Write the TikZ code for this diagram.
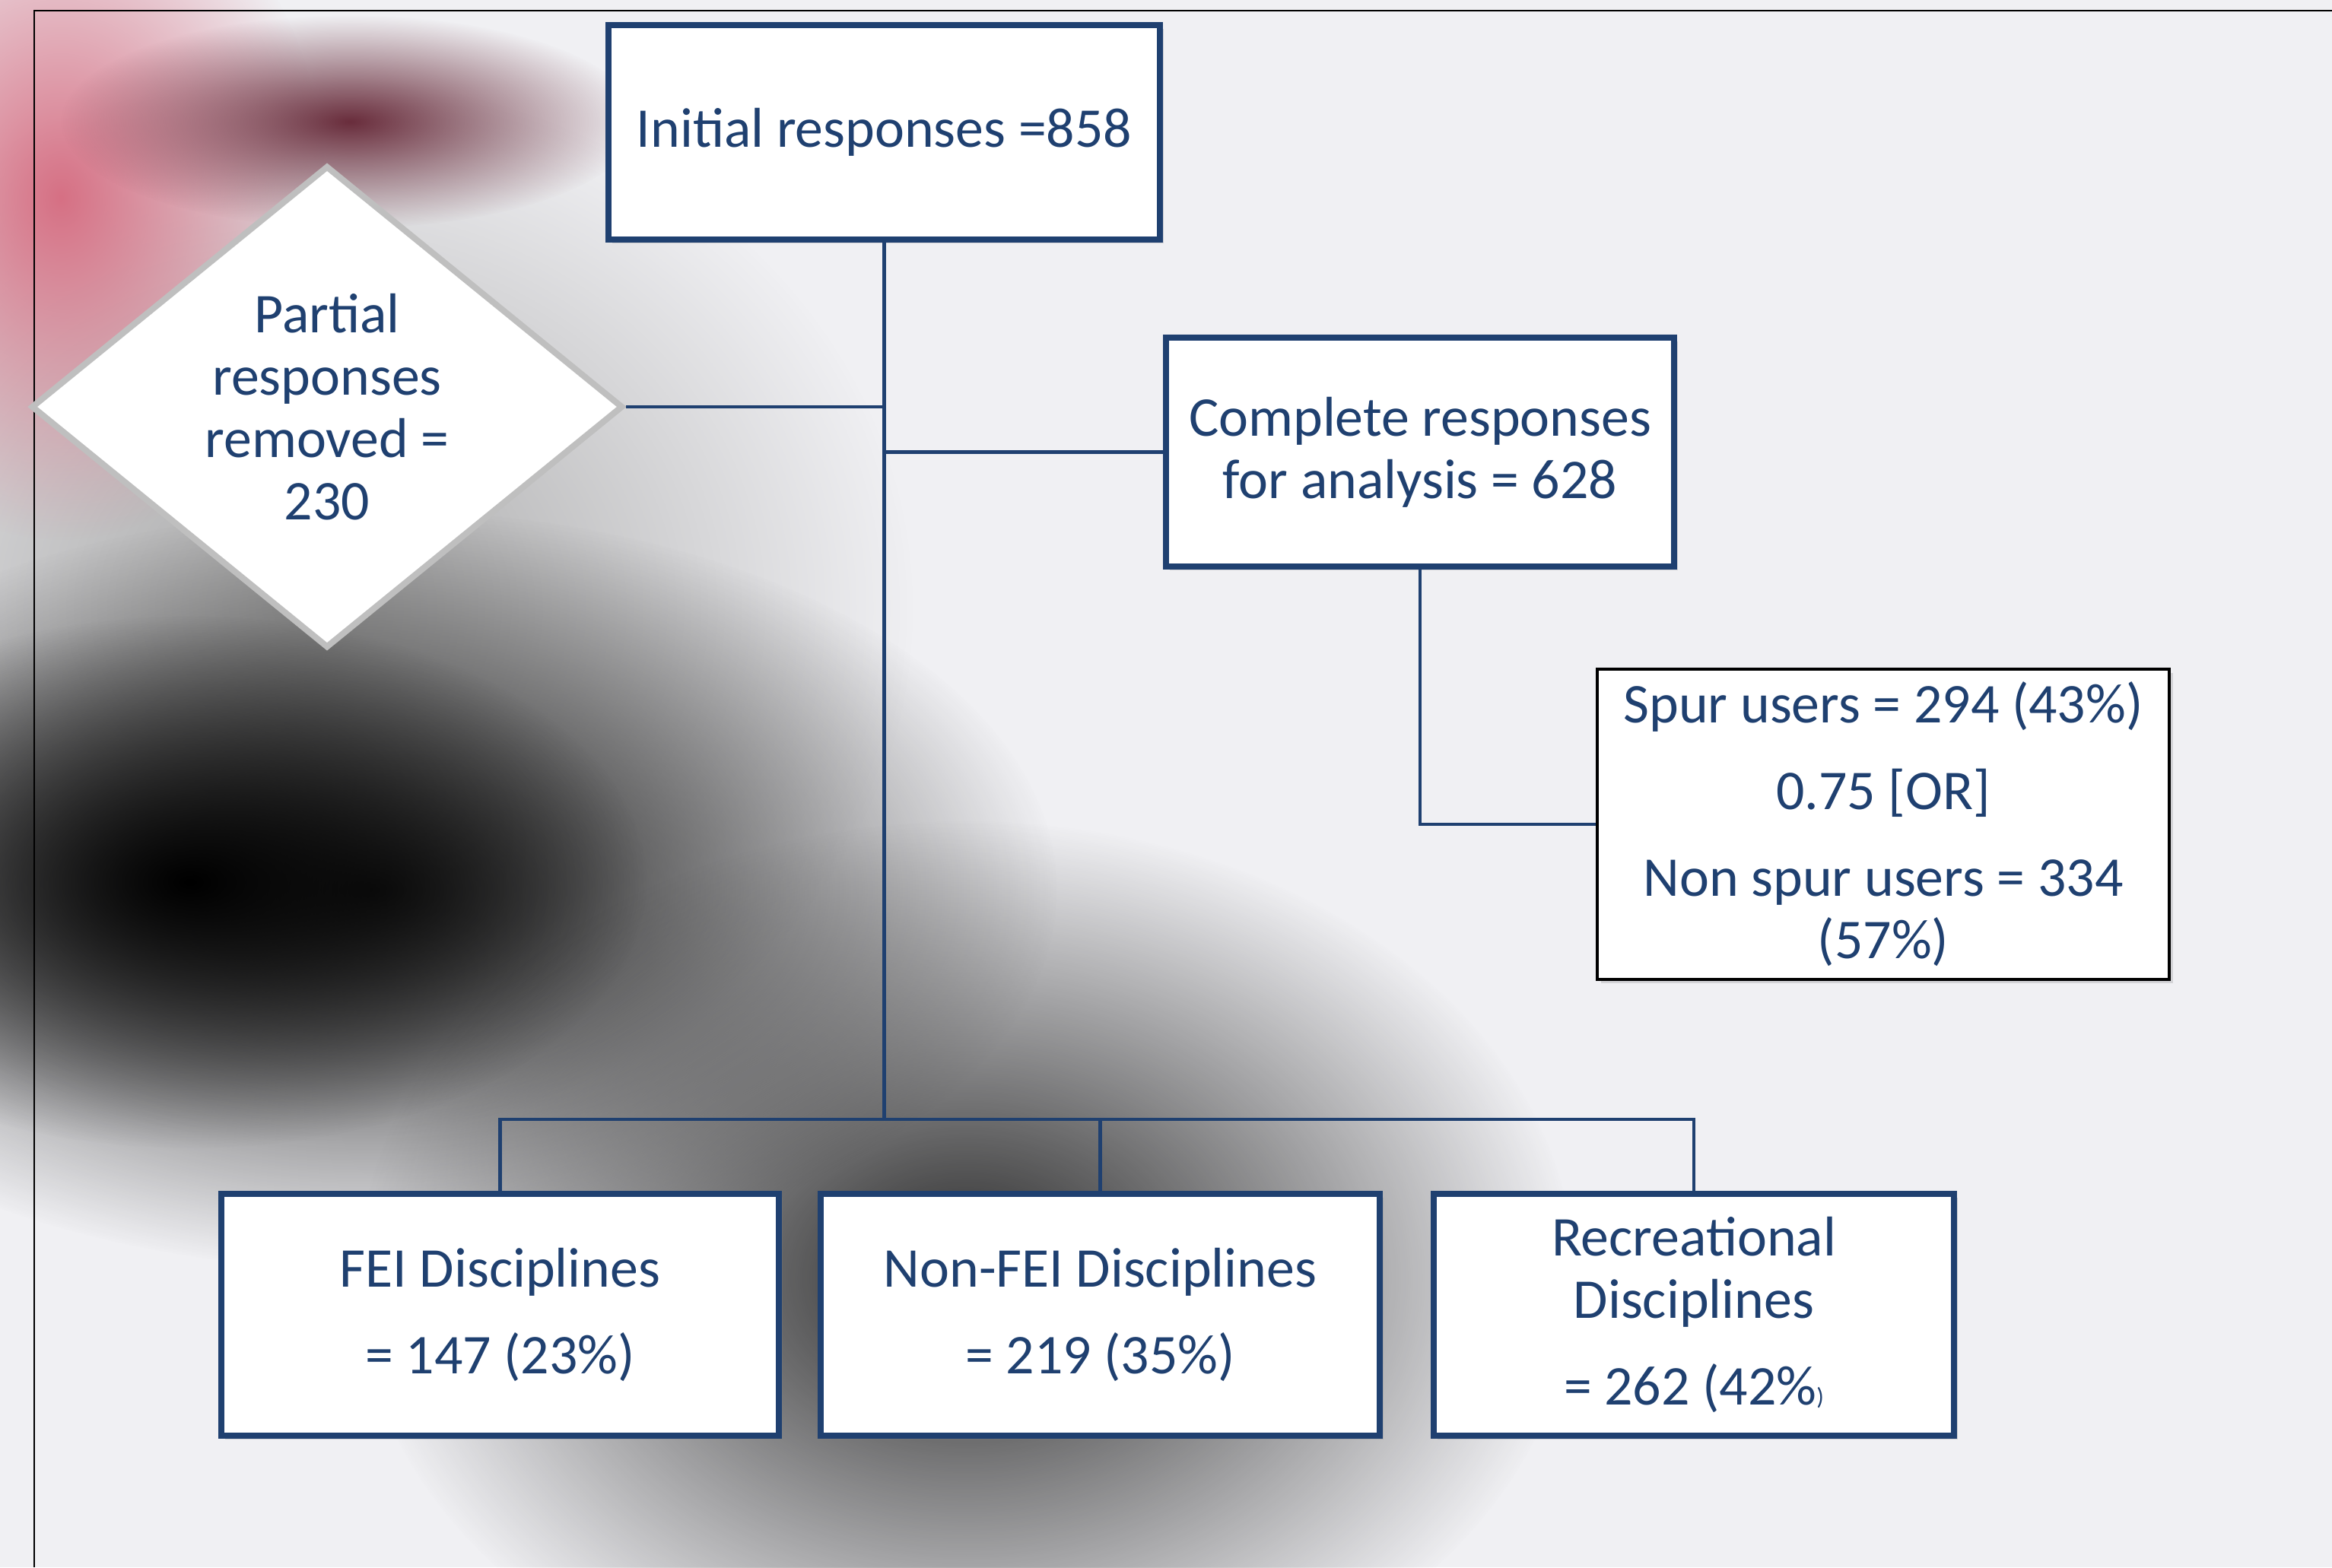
\documentclass[tikz,border=0pt]{standalone}
\usepackage{fontspec}
\setmainfont{Carlito}
\usetikzlibrary{shapes,shadows,fadings,positioning,calc}
\definecolor{boxblue}{RGB}{31,64,112}
\definecolor{diamondgrey}{RGB}{191,191,191}
\definecolor{bggrey}{RGB}{240,240,243}
\definecolor{blobpink}{RGB}{214,112,132}
\definecolor{blobmaroon}{RGB}{105,45,60}
\tikzfading[name=blobfade, inner color=transparent!0, outer color=transparent!100]

\begin{document}
\begin{tikzpicture}[
        font=\fontsize{21}{23.4}\selectfont,
        box/.style={
          draw=boxblue, line width=2.3pt, fill=white,
          text=boxblue, align=center, inner sep=0pt,
          drop shadow={shadow xshift=1.5pt, shadow yshift=-1.5pt, opacity=0.25}
        },
        result/.style={
          draw=black, line width=1.1pt, fill=white,
          text=boxblue, align=center, inner sep=0pt,
          drop shadow={shadow xshift=1.5pt, shadow yshift=-1.5pt, opacity=0.25}
        },
        decision/.style={
          diamond, draw=diamondgrey, line width=2.3pt, fill=white,
          text=boxblue, align=center, inner sep=0pt
        },
        link/.style={draw=boxblue, line width=1.2pt}
      ]

        % Background
        \fill[bggrey] (0,0) rectangle (30.66,-20.61);
        \useasboundingbox (0,0) rectangle (30.66,-20.61);
        \fill[black!35, path fading=blobfade] (4,-8) ellipse (8 and 7);
        \fill[black!90, path fading=blobfade] (4.9,-11.7) ellipse (9 and 5);
        \fill[black, path fading=blobfade] (2.5,-11.6) ellipse (6 and 3.5);
        \fill[black!85, path fading=blobfade] (12.7,-16.8) ellipse (8 and 6);
        \fill[blobpink, path fading=blobfade] (0.8,-2.6) ellipse (3.5 and 4.5);
        \fill[blobmaroon, path fading=blobfade] (4.6,-1.6) ellipse (3.8 and 1.4);
        \draw[black, line width=0.7pt] (0.45,-20.61) -- (0.45,-0.14) -- (30.66,-0.14);

        % Boxes
        \node (init) [box, minimum width=7.25cm, minimum height=2.82cm] at (11.625,-1.74)
        {Initial responses =858};

        \node (partial) [decision, minimum width=7.78cm, minimum height=6.34cm] at (4.30,-5.35)
        {Partial\\responses\\removed =\\230};

        \node (complete) [box, minimum width=6.68cm, minimum height=3.01cm] at (18.67,-5.945)
        {Complete responses\\for analysis = 628};

        \node (spur) [result, minimum width=7.52cm, minimum height=4.08cm] at (24.76,-10.84)
        {Spur users = 294 (43\%)\\[9pt]0.75 [OR]\\[9pt]Non spur users = 334\\(57\%)};

        \node (fei) [box, minimum width=7.33cm, minimum height=3.18cm] at (6.575,-17.29)
        {FEI Disciplines\\[9pt]= 147 (23\%)};

        \node (nonfei) [box, minimum width=7.35cm, minimum height=3.18cm] at (14.465,-17.29)
        {Non-FEI Disciplines\\[9pt]= 219 (35\%)};

        \node (rec) [box, minimum width=6.84cm, minimum height=3.18cm] at (22.27,-17.29)
        {Recreational\\Disciplines\\[9pt]= 262 (42\%{\fontsize{9}{9}\selectfont )}};

        % Connectors
        \coordinate (bus) at (11.625,-14.72);
        \draw[link] (init.south) -- (bus);
        \draw[link] (partial.east) -- (partial.east -| init.south);
        \draw[link] (complete.west -| init.south) -- (complete.west);
        \draw[link] (complete.south) |- (spur.west);
        \draw[link] (fei.north) |- (bus) -| (rec.north);
        \draw[link] (nonfei.north) -- (nonfei.north |- bus);

      \end{tikzpicture}
\end{document}
